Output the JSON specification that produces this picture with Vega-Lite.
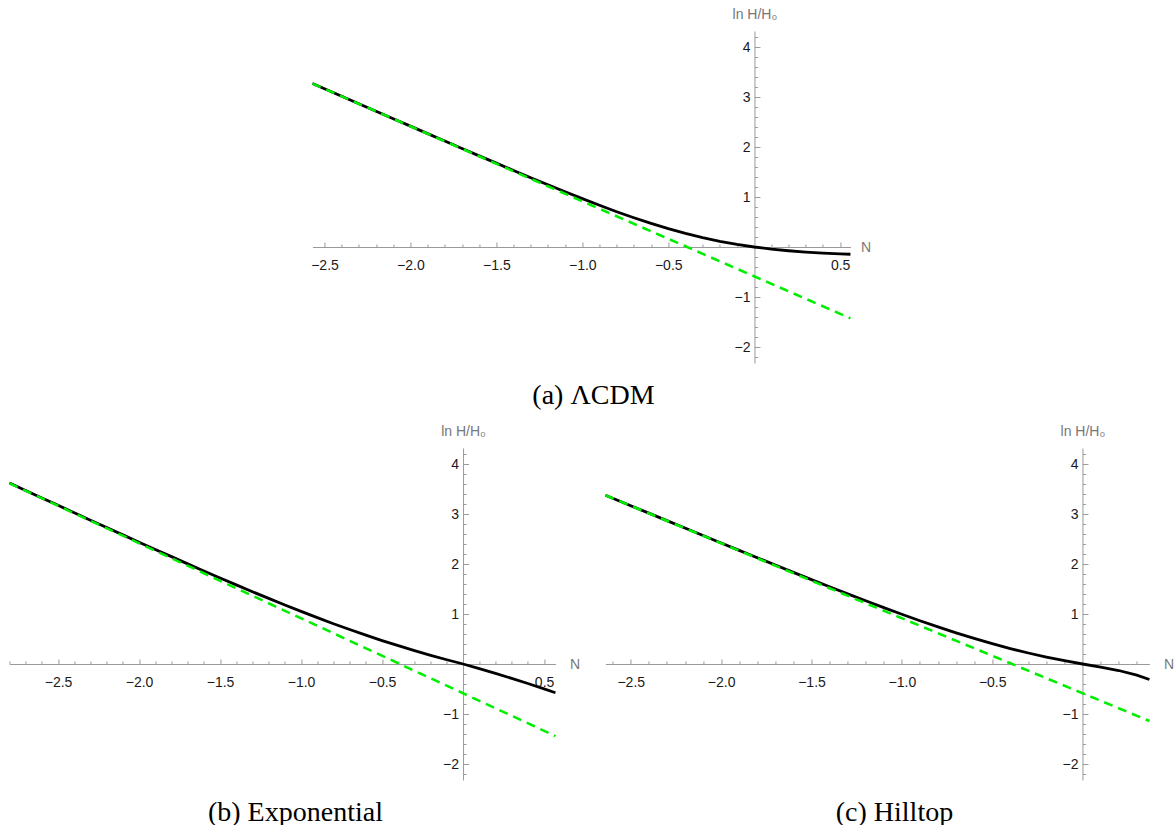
{
  "$schema": "https://vega.github.io/schema/vega-lite/v6.json",
  "padding": {"left": 3, "top": 7, "right": 2, "bottom": 2},
  "center": true,
  "spacing": 14,
  "config": {
    "view": {"stroke": null},
    "axis": {
      "grid": false,
      "domainColor": "#9a9a9a",
      "domainWidth": 1,
      "tickColor": "#9a9a9a",
      "tickWidth": 1,
      "labelFont": "Liberation Sans",
      "labelFontSize": 14,
      "labelColor": "#1a1a1a",
      "labelFlush": false,
      "labelOverlap": false,
      "labelBound": false,
      "titleFont": "Liberation Sans",
      "titleFontSize": 14,
      "titleFontWeight": "normal",
      "titleColor": "#777777",
      "titleAngle": 0
    },
    "title": {
      "font": "Liberation Serif",
      "fontSize": 28,
      "fontWeight": "normal",
      "color": "#000000"
    }
  },
  "datasets": {
    "lcdm": [
      {"N": -2.57, "lnH": 3.270, "curve": "solution"},
      {"N": -2.5, "lnH": 3.165, "curve": "solution"},
      {"N": -2.4, "lnH": 3.015, "curve": "solution"},
      {"N": -2.3, "lnH": 2.866, "curve": "solution"},
      {"N": -2.2, "lnH": 2.716, "curve": "solution"},
      {"N": -2.1, "lnH": 2.566, "curve": "solution"},
      {"N": -2.0, "lnH": 2.417, "curve": "solution"},
      {"N": -1.9, "lnH": 2.268, "curve": "solution"},
      {"N": -1.8, "lnH": 2.119, "curve": "solution"},
      {"N": -1.7, "lnH": 1.971, "curve": "solution"},
      {"N": -1.6, "lnH": 1.823, "curve": "solution"},
      {"N": -1.5, "lnH": 1.677, "curve": "solution"},
      {"N": -1.4, "lnH": 1.531, "curve": "solution"},
      {"N": -1.3, "lnH": 1.386, "curve": "solution"},
      {"N": -1.2, "lnH": 1.244, "curve": "solution"},
      {"N": -1.1, "lnH": 1.104, "curve": "solution"},
      {"N": -1.0, "lnH": 0.967, "curve": "solution"},
      {"N": -0.9, "lnH": 0.834, "curve": "solution"},
      {"N": -0.8, "lnH": 0.706, "curve": "solution"},
      {"N": -0.7, "lnH": 0.585, "curve": "solution"},
      {"N": -0.6, "lnH": 0.471, "curve": "solution"},
      {"N": -0.5, "lnH": 0.366, "curve": "solution"},
      {"N": -0.4, "lnH": 0.271, "curve": "solution"},
      {"N": -0.3, "lnH": 0.187, "curve": "solution"},
      {"N": -0.2, "lnH": 0.1135, "curve": "solution"},
      {"N": -0.1, "lnH": 0.0515, "curve": "solution"},
      {"N": 0.0, "lnH": 0.0, "curve": "solution"},
      {"N": 0.1, "lnH": -0.0419, "curve": "solution"},
      {"N": 0.2, "lnH": -0.0753, "curve": "solution"},
      {"N": 0.3, "lnH": -0.1017, "curve": "solution"},
      {"N": 0.4, "lnH": -0.122, "curve": "solution"},
      {"N": 0.5, "lnH": -0.1378, "curve": "solution"},
      {"N": 0.56, "lnH": -0.1453, "curve": "solution"},
      {"N": -2.57, "lnH": 3.2695, "curve": "matter"},
      {"N": 0.56, "lnH": -1.4255, "curve": "matter"}
    ],
    "expo": [
      {"N": -2.8, "lnH": 3.619, "curve": "solution"},
      {"N": -2.7, "lnH": 3.470, "curve": "solution"},
      {"N": -2.6, "lnH": 3.321, "curve": "solution"},
      {"N": -2.5, "lnH": 3.173, "curve": "solution"},
      {"N": -2.4, "lnH": 3.025, "curve": "solution"},
      {"N": -2.3, "lnH": 2.877, "curve": "solution"},
      {"N": -2.2, "lnH": 2.729, "curve": "solution"},
      {"N": -2.1, "lnH": 2.583, "curve": "solution"},
      {"N": -2.0, "lnH": 2.436, "curve": "solution"},
      {"N": -1.9, "lnH": 2.291, "curve": "solution"},
      {"N": -1.8, "lnH": 2.147, "curve": "solution"},
      {"N": -1.7, "lnH": 2.003, "curve": "solution"},
      {"N": -1.6, "lnH": 1.861, "curve": "solution"},
      {"N": -1.5, "lnH": 1.721, "curve": "solution"},
      {"N": -1.4, "lnH": 1.582, "curve": "solution"},
      {"N": -1.3, "lnH": 1.445, "curve": "solution"},
      {"N": -1.2, "lnH": 1.312, "curve": "solution"},
      {"N": -1.1, "lnH": 1.180, "curve": "solution"},
      {"N": -1.0, "lnH": 1.052, "curve": "solution"},
      {"N": -0.9, "lnH": 0.927, "curve": "solution"},
      {"N": -0.8, "lnH": 0.806, "curve": "solution"},
      {"N": -0.7, "lnH": 0.689, "curve": "solution"},
      {"N": -0.6, "lnH": 0.577, "curve": "solution"},
      {"N": -0.5, "lnH": 0.469, "curve": "solution"},
      {"N": -0.4, "lnH": 0.366, "curve": "solution"},
      {"N": -0.3, "lnH": 0.268, "curve": "solution"},
      {"N": -0.2, "lnH": 0.174, "curve": "solution"},
      {"N": -0.1, "lnH": 0.085, "curve": "solution"},
      {"N": 0.0, "lnH": 0.0, "curve": "solution"},
      {"N": 0.1, "lnH": -0.092, "curve": "solution"},
      {"N": 0.2, "lnH": -0.188, "curve": "solution"},
      {"N": 0.3, "lnH": -0.288, "curve": "solution"},
      {"N": 0.4, "lnH": -0.39, "curve": "solution"},
      {"N": 0.5, "lnH": -0.498, "curve": "solution"},
      {"N": 0.57, "lnH": -0.575, "curve": "solution"},
      {"N": -2.8, "lnH": 3.6145, "curve": "matter"},
      {"N": 0.57, "lnH": -1.4405, "curve": "matter"}
    ],
    "hill": [
      {"N": -2.64, "lnH": 3.376, "curve": "solution"},
      {"N": -2.6, "lnH": 3.316, "curve": "solution"},
      {"N": -2.5, "lnH": 3.166, "curve": "solution"},
      {"N": -2.4, "lnH": 3.018, "curve": "solution"},
      {"N": -2.3, "lnH": 2.868, "curve": "solution"},
      {"N": -2.2, "lnH": 2.719, "curve": "solution"},
      {"N": -2.1, "lnH": 2.570, "curve": "solution"},
      {"N": -2.0, "lnH": 2.421, "curve": "solution"},
      {"N": -1.9, "lnH": 2.273, "curve": "solution"},
      {"N": -1.8, "lnH": 2.126, "curve": "solution"},
      {"N": -1.7, "lnH": 1.979, "curve": "solution"},
      {"N": -1.6, "lnH": 1.833, "curve": "solution"},
      {"N": -1.5, "lnH": 1.688, "curve": "solution"},
      {"N": -1.4, "lnH": 1.545, "curve": "solution"},
      {"N": -1.3, "lnH": 1.403, "curve": "solution"},
      {"N": -1.2, "lnH": 1.264, "curve": "solution"},
      {"N": -1.1, "lnH": 1.128, "curve": "solution"},
      {"N": -1.0, "lnH": 0.995, "curve": "solution"},
      {"N": -0.9, "lnH": 0.866, "curve": "solution"},
      {"N": -0.8, "lnH": 0.742, "curve": "solution"},
      {"N": -0.7, "lnH": 0.623, "curve": "solution"},
      {"N": -0.6, "lnH": 0.511, "curve": "solution"},
      {"N": -0.5, "lnH": 0.406, "curve": "solution"},
      {"N": -0.4, "lnH": 0.309, "curve": "solution"},
      {"N": -0.3, "lnH": 0.220, "curve": "solution"},
      {"N": -0.2, "lnH": 0.139, "curve": "solution"},
      {"N": -0.1, "lnH": 0.066, "curve": "solution"},
      {"N": 0.0, "lnH": 0.0, "curve": "solution"},
      {"N": 0.1, "lnH": -0.062, "curve": "solution"},
      {"N": 0.2, "lnH": -0.13, "curve": "solution"},
      {"N": 0.3, "lnH": -0.222, "curve": "solution"},
      {"N": 0.37, "lnH": -0.31, "curve": "solution"},
      {"N": -2.64, "lnH": 3.3745, "curve": "matter"},
      {"N": 0.37, "lnH": -1.1405, "curve": "matter"}
    ]
  },
  "vconcat": [
    {
      "width": 538,
      "height": 332,
      "data": {"name": "lcdm"},
      "title": {"text": "(a) ΛCDM", "orient": "bottom", "anchor": "middle", "frame": "group", "baseline": "alphabetic", "offset": 39.5, "dx": 12},
      "encoding": {
        "x": {
          "field": "N", "type": "quantitative",
          "scale": {"domain": [-2.57, 0.56], "nice": false, "zero": false},
          "axis": {
            "orient": "bottom", "offset": -116,
            "values": [-2.5, -2.4, -2.3, -2.2, -2.1, -2.0, -1.9, -1.8, -1.7, -1.6, -1.5, -1.4, -1.3, -1.2, -1.1, -1.0, -0.9, -0.8, -0.7, -0.6, -0.5, -0.4, -0.3, -0.2, -0.1, 0.1, 0.2, 0.3, 0.4, 0.5],
            "tickSize": {"condition": {"test": "abs(datum.value * 2 - round(datum.value * 2)) < 0.001", "value": -5}, "value": -3},
            "labelExpr": "abs(datum.value * 2 - round(datum.value * 2)) < 0.001 ? format(datum.value, '.1f') : ''",
            "labelPadding": 16,
            "title": "N", "titleX": 548, "titleY": 0, "titleAlign": "left", "titleBaseline": "middle"
          }
        },
        "y": {
          "field": "lnH", "type": "quantitative",
          "scale": {"domain": [-2.32, 4.32], "nice": false, "zero": false},
          "axis": {
            "orient": "left", "offset": -442,
            "values": [-2.2, -2.0, -1.8, -1.6, -1.4, -1.2, -1.0, -0.8, -0.6, -0.4, -0.2, 0.2, 0.4, 0.6, 0.8, 1.0, 1.2, 1.4, 1.6, 1.8, 2.0, 2.2, 2.4, 2.6, 2.8, 3.0, 3.2, 3.4, 3.6, 3.8, 4.0, 4.2],
            "tickSize": {"condition": {"test": "abs(datum.value - round(datum.value)) < 0.001", "value": -5.5}, "value": -3},
            "labelExpr": "abs(datum.value - round(datum.value)) < 0.001 ? format(datum.value, 'd') : ''",
            "labelPadding": 10,
            "title": "ln H/H₀", "titleX": 0, "titleY": -13, "titleAlign": "center", "titleBaseline": "alphabetic"
          }
        }
      },
      "layer": [
        {"transform": [{"filter": "datum.curve === 'solution'"}], "mark": {"type": "line", "color": "#000000", "strokeWidth": 2.8}},
        {"transform": [{"filter": "datum.curve === 'matter'"}], "mark": {"type": "line", "color": "#00ee00", "strokeWidth": 2.5, "strokeDash": [9, 6]}}
      ]
    },
    {
      "hconcat": [
        {
          "width": 546,
          "height": 332,
          "data": {"name": "expo"},
          "title": {"text": "(b) Exponential", "orient": "bottom", "anchor": "middle", "frame": "group", "baseline": "alphabetic", "offset": 39.5, "dx": 13},
          "encoding": {
            "x": {
              "field": "N", "type": "quantitative",
              "scale": {"domain": [-2.8, 0.57], "nice": false, "zero": false},
              "axis": {
                "orient": "bottom", "offset": -116,
                "values": [-2.8, -2.7, -2.6, -2.5, -2.4, -2.3, -2.2, -2.1, -2.0, -1.9, -1.8, -1.7, -1.6, -1.5, -1.4, -1.3, -1.2, -1.1, -1.0, -0.9, -0.8, -0.7, -0.6, -0.5, -0.4, -0.3, -0.2, -0.1, 0.1, 0.2, 0.3, 0.4, 0.5],
                "tickSize": {"condition": {"test": "abs(datum.value * 2 - round(datum.value * 2)) < 0.001", "value": -5}, "value": -3},
                "labelExpr": "abs(datum.value * 2 - round(datum.value * 2)) < 0.001 ? format(datum.value, '.1f') : ''",
                "labelPadding": 16,
                "title": "N", "titleX": 560, "titleY": 0, "titleAlign": "left", "titleBaseline": "middle"
              }
            },
            "y": {
              "field": "lnH", "type": "quantitative",
              "scale": {"domain": [-2.32, 4.32], "nice": false, "zero": false},
              "axis": {
                "orient": "left", "offset": -453.6,
                "values": [-2.2, -2.0, -1.8, -1.6, -1.4, -1.2, -1.0, -0.8, -0.6, -0.4, -0.2, 0.2, 0.4, 0.6, 0.8, 1.0, 1.2, 1.4, 1.6, 1.8, 2.0, 2.2, 2.4, 2.6, 2.8, 3.0, 3.2, 3.4, 3.6, 3.8, 4.0, 4.2],
                "tickSize": {"condition": {"test": "abs(datum.value - round(datum.value)) < 0.001", "value": -5.5}, "value": -3},
                "labelExpr": "abs(datum.value - round(datum.value)) < 0.001 ? format(datum.value, 'd') : ''",
                "labelPadding": 10,
                "title": "ln H/H₀", "titleX": 0, "titleY": -13, "titleAlign": "center", "titleBaseline": "alphabetic"
              }
            }
          },
          "layer": [
            {"transform": [{"filter": "datum.curve === 'solution'"}], "mark": {"type": "line", "color": "#000000", "strokeWidth": 2.8}},
            {"transform": [{"filter": "datum.curve === 'matter'"}], "mark": {"type": "line", "color": "#00ee00", "strokeWidth": 2.5, "strokeDash": [9, 6]}}
          ]
        },
        {
          "width": 544,
          "height": 332,
          "data": {"name": "hill"},
          "title": {"text": "(c) Hilltop", "orient": "bottom", "anchor": "middle", "frame": "group", "baseline": "alphabetic", "offset": 39.5, "dx": 17},
          "encoding": {
            "x": {
              "field": "N", "type": "quantitative",
              "scale": {"domain": [-2.64, 0.37], "nice": false, "zero": false},
              "axis": {
                "orient": "bottom", "offset": -116,
                "values": [-2.6, -2.5, -2.4, -2.3, -2.2, -2.1, -2.0, -1.9, -1.8, -1.7, -1.6, -1.5, -1.4, -1.3, -1.2, -1.1, -1.0, -0.9, -0.8, -0.7, -0.6, -0.5, -0.4, -0.3, -0.2, -0.1, 0.1, 0.2, 0.3],
                "tickSize": {"condition": {"test": "abs(datum.value * 2 - round(datum.value * 2)) < 0.001", "value": -5}, "value": -3},
                "labelExpr": "abs(datum.value * 2 - round(datum.value * 2)) < 0.001 ? format(datum.value, '.1f') : ''",
                "labelPadding": 16,
                "title": "N", "titleX": 558, "titleY": 0, "titleAlign": "left", "titleBaseline": "middle"
              }
            },
            "y": {
              "field": "lnH", "type": "quantitative",
              "scale": {"domain": [-2.32, 4.32], "nice": false, "zero": false},
              "axis": {
                "orient": "left", "offset": -477,
                "values": [-2.2, -2.0, -1.8, -1.6, -1.4, -1.2, -1.0, -0.8, -0.6, -0.4, -0.2, 0.2, 0.4, 0.6, 0.8, 1.0, 1.2, 1.4, 1.6, 1.8, 2.0, 2.2, 2.4, 2.6, 2.8, 3.0, 3.2, 3.4, 3.6, 3.8, 4.0, 4.2],
                "tickSize": {"condition": {"test": "abs(datum.value - round(datum.value)) < 0.001", "value": -5.5}, "value": -3},
                "labelExpr": "abs(datum.value - round(datum.value)) < 0.001 ? format(datum.value, 'd') : ''",
                "labelPadding": 10,
                "title": "ln H/H₀", "titleX": 0, "titleY": -13, "titleAlign": "center", "titleBaseline": "alphabetic"
              }
            }
          },
          "layer": [
            {"transform": [{"filter": "datum.curve === 'solution'"}], "mark": {"type": "line", "color": "#000000", "strokeWidth": 2.8}},
            {"transform": [{"filter": "datum.curve === 'matter'"}], "mark": {"type": "line", "color": "#00ee00", "strokeWidth": 2.5, "strokeDash": [9, 6]}}
          ]
        }
      ],
      "spacing": 50,
      "bounds": "flush"
    }
  ]
}
